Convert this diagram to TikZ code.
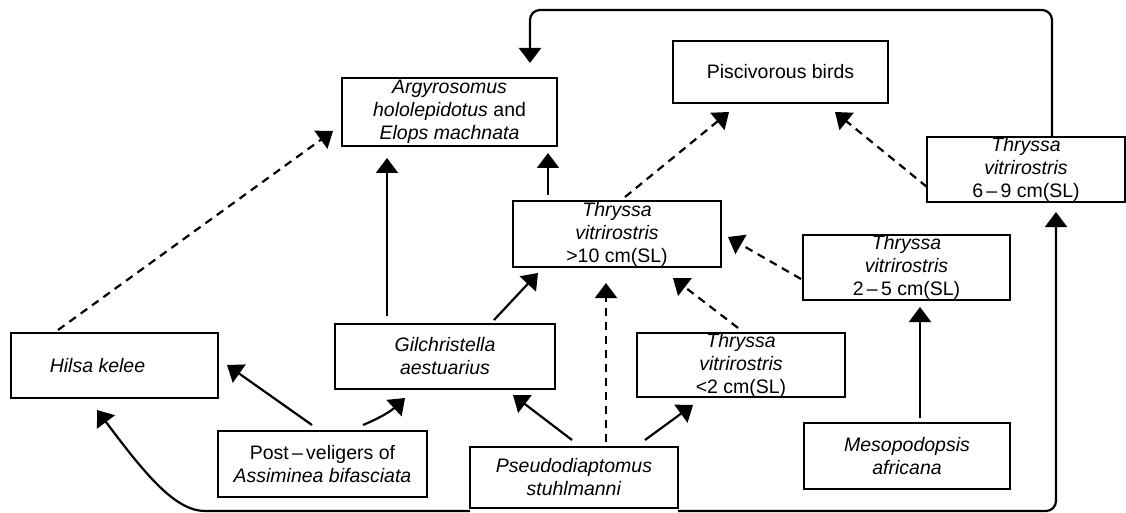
\documentclass[tikz,border=0pt]{standalone}
\usepackage{fontspec}
\setmainfont{Liberation Sans}
\usetikzlibrary{arrows.meta,calc}
\begin{document}
\begin{tikzpicture}[x=1pt,y=-1pt,
  box/.style={draw, line width=1.8pt, inner sep=0pt, outer sep=0pt, align=center,
    font=\fontsize{19.5}{23}\selectfont},
  conn/.style={line width=2.2pt, -{Triangle[width=22pt,length=15pt]}},
  dconn/.style={conn, dash pattern=on 8pt off 6pt}]
\useasboundingbox (0,0) rectangle (1126,513);

% nodes
\node[box, minimum width=215pt, minimum height=68pt] (arg) at (449.5,112)
  {\textit{Argyrosomus}\\\textit{hololepidotus} and\\\textit{Elops machnata}};
\node[box, minimum width=215pt, minimum height=62pt] (birds) at (780.5,72) {Piscivorous birds};
\node[box, minimum width=198pt, minimum height=65pt] (t69) at (1026,169.5)
  {\textit{Thryssa}\\\textit{vitrirostris}\\6\,–\,9 cm(SL)};
\node[box, minimum width=208pt, minimum height=66pt] (t10) at (617,234)
  {\textit{Thryssa}\\\textit{vitrirostris}\\>10 cm(SL)};
\node[box, minimum width=207pt, minimum height=65pt] (t25) at (906.5,267.5)
  {\textit{Thryssa}\\\textit{vitrirostris}\\2\,–\,5 cm(SL)};
\node[box, minimum width=208pt, minimum height=64pt] (t2) at (741,365)
  {\textit{Thryssa}\\\textit{vitrirostris}\\<2 cm(SL)};
\node[box, minimum width=220pt, minimum height=65pt] (gil) at (445,356.5)
  {\textit{Gilchristella}\\\textit{aestuarius}};
\node[box, minimum width=207pt, minimum height=65pt] (hilsa) at (114.5,365.5)
  {\textit{Hilsa kelee}\hspace*{34pt}};
\node[box, minimum width=209pt, minimum height=66pt] (post) at (322.5,464)
  {Post\,–\,veligers of\\\textit{Assiminea bifasciata}};
\node[box, minimum width=208pt, minimum height=61pt] (pseudo) at (574,477.5)
  {\textit{Pseudodiaptomus}\\\textit{stuhlmanni}};
\node[box, minimum width=206pt, minimum height=66pt] (meso) at (907,456)
  {\textit{Mesopodopsis}\\\textit{africana}};

% connectors
\draw[dconn] ($(hilsa.north west)+(47,-3)$) -- ($(arg.north west)+(-9,53)$);
\draw[conn] ($(gil.north west)+(52,-8)$) -- ($(arg.north west)+(45,80)$);
\draw[conn] ($(t10.north west)+(35,-6)$) -- ($(arg.north west)+(206,75)$);
\draw[dconn] ($(t10.north west)+(112,-4)$) -- ($(birds.north west)+(56,71)$);
\draw[dconn] ($(t69.north west)+(0,50)$) -- ($(birds.north west)+(162,71)$);
\draw[conn, rounded corners=10pt] ($(t69.north west)+(125,0)$) |- ($(arg.north west)+(188,-68)$)
  -- ($(arg.north west)+(188,-15)$);
\draw[conn] ($(gil.north west)+(159,-4)$) -- ($(t10.north west)+(25,72)$);
\draw[dconn] ($(pseudo.north west)+(136,-5)$) -- ($(t10.north west)+(93,82)$);
\draw[dconn] ($(t2.north west)+(101,-5)$) -- ($(t10.north west)+(160,77)$);
\draw[dconn] ($(t25.north west)+(-2,44)$) -- ($(t10.north west)+(215,36)$);
\draw[conn] ($(meso.north west)+(116,-5)$) -- ($(t25.north west)+(117,72)$);
\draw[conn] ($(pseudo.north west)+(102,-7)$) -- ($(gil.north west)+(178,71)$);
\draw[conn] ($(pseudo.north west)+(175,-7)$) -- ($(t2.north west)+(56,72)$);
\draw[conn] ($(post.north west)+(94,-6)$) -- ($(hilsa.north west)+(216,32)$);
\draw[conn] ($(post.north west)+(145,-6)$) to[bend right=10] ($(gil.north west)+(70,74)$);
\draw[conn] ($(pseudo.north west)+(0,64)$) -- ($(hilsa.north west)+(194,178)$)
  .. controls ($(hilsa.north west)+(164,178)$) and ($(hilsa.north west)+(134,141)$)
  .. ($(hilsa.north west)+(86,77)$);
\draw[conn, rounded corners=10pt] ($(pseudo.north west)+(208,64)$) -| ($(t69.north west)+(129,75)$);
\end{tikzpicture}
\end{document}
